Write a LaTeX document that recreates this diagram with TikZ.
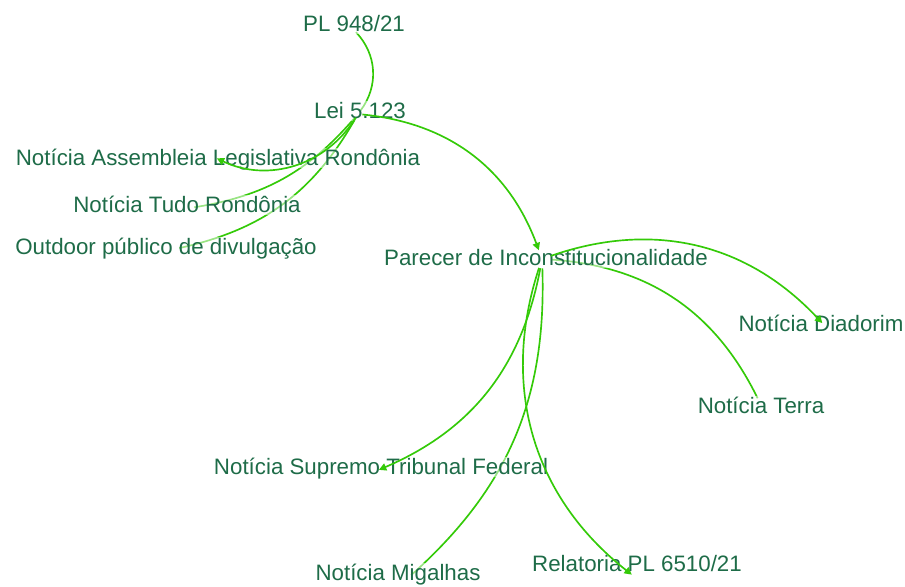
\documentclass[tikz,border=0pt]{standalone}
\usepackage{fontspec}
\setmainfont{Liberation Sans}
\usetikzlibrary{arrows.meta}
\definecolor{edgec}{RGB}{52,202,8}
\definecolor{textc}{RGB}{30,108,72}
\begin{document}
\begin{tikzpicture}[x=0.02cm,y=-0.02cm,
  vx/.style={circle,inner sep=0pt,minimum size=#1},
  vx/.default=0.16cm,
  lbl/.style={text=textc,font=\fontsize{12.7}{15}\selectfont,inner sep=1pt,text height=9pt,text depth=0pt,fill=white,fill opacity=0.5,text opacity=1},
  edge/.style={draw=edgec,line width=0.95pt},
  arr/.style={edge,-{Triangle[length=4.2pt,width=4.2pt]}}]
\useasboundingbox (0,0) rectangle (905,586);
% vertices (invisible)
\node[vx] (pl) at (353,29) {};
\node[vx] (lei) at (358,114) {};
\node[vx=0.2cm] (asm) at (212,156) {};
\node[vx] (tudo) at (190,208) {};
\node[vx] (out) at (175,249) {};
\node[vx=0.36cm] (par) at (542,259) {};
\node[vx=0.2cm] (dia) at (826,327) {};
\node[vx=0.2cm] (ter) at (760,403) {};
\node[vx=0.2cm] (stf) at (374,472) {};
\node[vx] (mig) at (408,578) {};
\node[vx=0.2cm] (rel) at (636,578) {};
% edges under labels
\draw[edge] (pl) to[bend left=40] (lei);
\draw[edge] (lei) to[bend left=20] (tudo);
\draw[edge] (lei) to[bend left=24] (out);
\draw[edge] (par) to[bend left=30] (ter);
\draw[edge] (par) to[bend left=25] (mig);
% labels
\node[lbl] (lpl) at (354,24) {PL 948/21};
\node[lbl] (llei) at (360,111) {Lei 5.123};
\node[lbl] (lasm) at (218,158) {Notícia Assembleia Legislativa Rondônia};
\node[lbl] (ltudo) at (187,205) {Notícia Tudo Rondônia};
\node[lbl] (lout) at (166,247) {Outdoor público de divulgação};
\node[lbl] (lpar) at (546,258) {Parecer de Inconstitucionalidade};
\node[lbl] (ldia) at (821,324) {Notícia Diadorim};
\node[lbl] (lter) at (761,406) {Notícia Terra};
\node[lbl] (lstf) at (381,467) {Notícia Supremo Tribunal Federal};
\node[lbl] (lmig) at (398,573) {Notícia Migalhas};
\node[lbl] (lrel) at (637,564) {Relatoria PL 6510/21};
% directed edges with visible arrowheads
\draw[arr] (lei) to[bend left=32] (par);
\draw[arr] (lei) to[bend left=42] (asm);
\draw[arr] (par) to[bend left=33] (dia);
\draw[arr] (par) to[bend left=28] (stf);
\draw[arr] (par) to[bend right=35] (rel);
\end{tikzpicture}
\end{document}
